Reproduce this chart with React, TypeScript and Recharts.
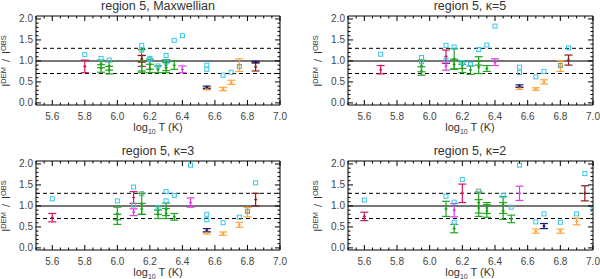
import React from 'react'
import { ComposedChart, Scatter, ErrorBar, XAxis, YAxis, ReferenceLine } from 'recharts'

type Sq = [number, number]
type Eb = [number, number, number]

// axis ticks
const xMajor = [5.6, 5.8, 6.0, 6.2, 6.4, 6.6, 6.8, 7.0]
const yMajor = [0, 0.5, 1.0, 1.5, 2.0]
const xTicks: number[] = []
for (let i = 0; i <= 30; i++) xTicks.push(Math.round((5.5 + i * 0.05) * 100) / 100)
const yTicks: number[] = []
for (let i = 0; i <= 20; i++) yTicks.push(Math.round(i * 10) / 100)

// region 5, Maxwellian
const maxSquares: Sq[] = [[5.8, 1.15], [5.9, 1.06], [5.95, 1.02], [6.15, 1.37], [6.15, 1.26], [6.2, 1.06], [6.2, 1.03], [6.25, 0.88], [6.3, 1.13], [6.3, 0.97], [6.35, 1.49], [6.4, 1.6], [6.55, 0.9], [6.55, 0.8], [6.65, 0.66], [6.7, 0.73]]
const maxOlive: Sq[] = [[6.75, 0.87]]
const maxRed: Eb[] = [[5.8, 0.87, 0.15], [6.15, 1.0, 0.13]]
const maxGreen: Eb[] = [[5.9, 0.93, 0.09], [5.9, 0.82, 0.09], [5.95, 0.88, 0.1], [5.95, 0.78, 0.09], [6.15, 1.0, 0.27], [6.15, 0.88, 0.12], [6.2, 0.92, 0.12], [6.2, 0.82, 0.1], [6.25, 0.8, 0.08], [6.3, 0.9, 0.13], [6.3, 0.84, 0.12], [6.35, 0.9, 0.1]]
const maxMagenta: Eb[] = [[6.4, 0.8, 0.08]]
const maxOrange: Eb[] = [[6.55, 0.34, 0.03], [6.65, 0.33, 0.04], [6.7, 0.49, 0.05], [6.75, 0.9, 0.15]]
const maxNavy: Eb[] = [[6.55, 0.37, 0.03], [6.85, 0.97, 0.02]]
const maxDarkRed: Eb[] = [[6.15, 1.05, 0.08], [6.85, 0.86, 0.1]]

// region 5, kappa=5
const k5Squares: Sq[] = [[5.7, 1.16], [5.95, 1.08], [5.95, 0.98], [6.1, 1.37], [6.1, 1.02], [6.15, 1.33], [6.2, 0.96], [6.25, 0.92], [6.3, 1.27], [6.35, 1.38], [6.4, 1.83], [6.55, 0.85], [6.55, 0.72], [6.65, 0.62], [6.7, 0.75], [6.85, 1.31]]
const k5Olive: Sq[] = [[6.8, 0.89]]
const k5Red: Eb[] = [[5.7, 0.79, 0.1], [6.1, 1.1, 0.16]]
const k5Green: Eb[] = [[5.95, 0.88, 0.14], [5.95, 0.76, 0.1], [6.15, 1.05, 0.24], [6.15, 0.92, 0.12], [6.2, 0.9, 0.08], [6.2, 0.82, 0.1], [6.25, 0.78, 0.1], [6.3, 1.0, 0.1], [6.3, 0.85, 0.15], [6.35, 0.82, 0.07]]
const k5Magenta: Eb[] = [[6.1, 0.88, 0.1], [6.4, 0.97, 0.08]]
const k5Orange: Eb[] = [[6.55, 0.35, 0.03], [6.65, 0.33, 0.03], [6.7, 0.5, 0.05], [6.8, 0.88, 0.13]]
const k5Navy: Eb[] = [[6.55, 0.4, 0.03]]
const k5DarkRed: Eb[] = [[6.85, 1.02, 0.12]]

// region 5, kappa=3
const k3Squares: Sq[] = [[5.6, 1.17], [6.0, 1.12], [6.1, 1.45], [6.1, 1.02], [6.25, 0.96], [6.3, 1.34], [6.3, 1.12], [6.35, 1.25], [6.45, 1.97], [6.55, 0.8], [6.55, 0.67], [6.65, 0.6], [6.75, 0.73], [6.85, 1.55]]
const k3Olive: Sq[] = [[6.15, 1.29], [6.8, 0.87]]
const k3Red: Eb[] = [[5.6, 0.72, 0.1], [6.1, 1.2, 0.14]]
const k3Green: Eb[] = [[6.0, 0.82, 0.15], [6.0, 0.68, 0.12], [6.15, 1.05, 0.25], [6.15, 0.93, 0.13], [6.25, 0.9, 0.1], [6.25, 0.8, 0.1], [6.3, 0.92, 0.15], [6.3, 0.82, 0.12], [6.35, 0.74, 0.08]]
const k3Magenta: Eb[] = [[6.1, 0.85, 0.08], [6.45, 1.08, 0.11]]
const k3Orange: Eb[] = [[6.55, 0.36, 0.03], [6.65, 0.34, 0.04], [6.75, 0.55, 0.06], [6.8, 0.85, 0.11]]
const k3Navy: Eb[] = [[6.55, 0.42, 0.04]]
const k3DarkRed: Eb[] = [[6.85, 1.15, 0.15]]

// region 5, kappa=2
const k2Squares: Sq[] = [[5.6, 1.14], [6.1, 1.23], [6.15, 1.09], [6.15, 0.61], [6.2, 1.63], [6.45, 1.25], [6.5, 0.97], [6.55, 1.97], [6.65, 0.62], [6.7, 0.81], [6.8, 0.61], [6.9, 0.81], [6.95, 1.77], [7.0, 0.92]]
const k2Olive: Sq[] = [[6.3, 1.35]]
const k2Red: Eb[] = [[5.6, 0.75, 0.1], [6.2, 1.3, 0.22]]
const k2Green: Eb[] = [[6.1, 0.93, 0.18], [6.15, 0.46, 0.1], [6.3, 1.08, 0.25], [6.3, 0.95, 0.2], [6.35, 0.95, 0.13], [6.35, 0.88, 0.15], [6.45, 1.02, 0.2], [6.45, 0.88, 0.2], [6.5, 0.69, 0.09]]
const k2Magenta: Eb[] = [[6.15, 0.9, 0.16], [6.55, 1.3, 0.17]]
const k2Orange: Eb[] = [[6.65, 0.4, 0.05], [6.8, 0.4, 0.05], [6.9, 0.63, 0.08]]
const k2Navy: Eb[] = [[6.7, 0.52, 0.06]]
const k2DarkRed: Eb[] = [[6.95, 1.3, 0.18]]

const COLORS = {
  red: '#d8145c',
  green: '#1fa51f',
  magenta: '#dd3ddd',
  orange: '#ffa53a',
  navy: '#1c1c80',
  darkred: '#8e1c1c',
  cyan: '#38c4ea',
  olive: '#6aa58a',
}

const FONT = '"Liberation Sans", Arial, sans-serif'
const Y_DOMAIN = [-0.05, 2.07]

const isMajor = (v: number, list: number[]) => list.some(m => Math.abs(m - v) < 1e-6)

const BottomTick = ({ x, y, payload }: any) => {
  const major = isMajor(payload.value, xMajor)
  return (
    <g>
      <line x1={x} x2={x} y1={y} y2={y - (major ? 5 : 2.5)} stroke="#000" />
      {major && (
        <text x={x} y={y + 15} textAnchor="middle" fontSize={10} fill="#444" fontFamily={FONT}>
          {payload.value.toFixed(1)}
        </text>
      )}
    </g>
  )
}

const TopTick = ({ x, y, payload }: any) => {
  const major = isMajor(payload.value, xMajor)
  return <line x1={x} x2={x} y1={y} y2={y + (major ? 5 : 2.5)} stroke="#000" />
}

const LeftTick = ({ x, y, payload }: any) => {
  const major = isMajor(payload.value, yMajor)
  return (
    <g>
      <line x1={x} x2={x + (major ? 5 : 2.5)} y1={y} y2={y} stroke="#000" />
      {major && (
        <text x={x - 3} y={y + 3.5} textAnchor="end" fontSize={10} fill="#444" fontFamily={FONT}>
          {payload.value.toFixed(1)}
        </text>
      )}
    </g>
  )
}

const RightTick = ({ x, y, payload }: any) => {
  const major = isMajor(payload.value, yMajor)
  return <line x1={x} x2={x - (major ? 5 : 2.5)} y1={y} y2={y} stroke="#000" />
}

const squareShape = (color: string) => (p: any) => (
  <rect x={p.cx - 2} y={p.cy - 2} width={4} height={4} fill="none" stroke={color} strokeWidth={1} />
)

const crossShape = (color: string) => (p: any) => (
  <path d={`M${p.cx - 1.5},${p.cy}h3M${p.cx},${p.cy - 1.5}v3`} stroke={color} strokeWidth={1.2} />
)

// axes take 1px each, margins are reduced by 1 to keep plot boxes in place
const panels = [
  { title: 'region 5, Maxwellian', left: 0, top: 0, h: 139, margin: { top: 15, right: 19, bottom: 33, left: 35 },
    squares: maxSquares, olive: maxOlive, bars: { red: maxRed, green: maxGreen, magenta: maxMagenta, orange: maxOrange, navy: maxNavy, darkred: maxDarkRed } },
  { title: 'region 5, \u03ba=5', left: 300, top: 0, h: 139, margin: { top: 15, right: 6, bottom: 33, left: 47 },
    squares: k5Squares, olive: k5Olive, bars: { red: k5Red, green: k5Green, magenta: k5Magenta, orange: k5Orange, navy: k5Navy, darkred: k5DarkRed } },
  { title: 'region 5, \u03ba=3', left: 0, top: 139, h: 140, margin: { top: 21, right: 19, bottom: 28, left: 35 },
    squares: k3Squares, olive: k3Olive, bars: { red: k3Red, green: k3Green, magenta: k3Magenta, orange: k3Orange, navy: k3Navy, darkred: k3DarkRed } },
  { title: 'region 5, \u03ba=2', left: 300, top: 139, h: 140, margin: { top: 21, right: 6, bottom: 28, left: 47 },
    squares: k2Squares, olive: k2Olive, bars: { red: k2Red, green: k2Green, magenta: k2Magenta, orange: k2Orange, navy: k2Navy, darkred: k2DarkRed } },
]

function Panel({ p }: { p: any }) {
  const sq = (arr: Sq[]) => arr.map(([x, y]) => ({ x, y }))
  const eb = (arr: Eb[]) => arr.map(([x, y, e]) => ({ x, y, e }))
  return (
    <div style={{ position: 'absolute', left: p.left, top: p.top }}>
      <ComposedChart width={300} height={p.h} margin={p.margin}>
        <XAxis xAxisId="b" type="number" dataKey="x" domain={[5.5, 7.0]} allowDataOverflow ticks={xTicks} interval={0}
          height={1} tickSize={0} tickMargin={0} tickLine={false} axisLine={{ stroke: '#000' }} tick={(t: any) => <BottomTick {...t} />} />
        <XAxis xAxisId="t" orientation="top" type="number" dataKey="x" domain={[5.5, 7.0]} allowDataOverflow ticks={xTicks} interval={0}
          height={1} tickSize={0} tickMargin={0} tickLine={false} axisLine={{ stroke: '#000' }} tick={(t: any) => <TopTick {...t} />} />
        <YAxis yAxisId="l" type="number" dataKey="y" domain={Y_DOMAIN} allowDataOverflow ticks={yTicks} interval={0}
          width={1} tickSize={0} tickMargin={0} tickLine={false} axisLine={{ stroke: '#000' }} tick={(t: any) => <LeftTick {...t} />} />
        <YAxis yAxisId="r" orientation="right" type="number" dataKey="y" domain={Y_DOMAIN} allowDataOverflow ticks={yTicks} interval={0}
          width={1} tickSize={0} tickMargin={0} tickLine={false} axisLine={{ stroke: '#000' }} tick={(t: any) => <RightTick {...t} />} />
        <ReferenceLine xAxisId="b" yAxisId="l" y={1.0} stroke="#777" strokeWidth={2} />
        <ReferenceLine xAxisId="b" yAxisId="l" y={1.3} stroke="#000" strokeDasharray="4 3" />
        <ReferenceLine xAxisId="b" yAxisId="l" y={0.7} stroke="#000" strokeDasharray="4 3" />
        {Object.entries(p.bars).map(([key, arr]: [string, any]) => (
          <Scatter key={key} xAxisId="b" yAxisId="l" data={eb(arr)} isAnimationActive={false}
            shape={crossShape((COLORS as any)[key])}>
            <ErrorBar dataKey="e" direction="y" width={4} stroke={(COLORS as any)[key]} strokeWidth={1.2} isAnimationActive={false} />
          </Scatter>
        ))}
        <Scatter xAxisId="b" yAxisId="l" data={sq(p.squares)} isAnimationActive={false} shape={squareShape(COLORS.cyan)} />
        <Scatter xAxisId="b" yAxisId="l" data={sq(p.olive)} isAnimationActive={false} shape={squareShape(COLORS.olive)} />
      </ComposedChart>
    </div>
  )
}

function Labels() {
  const boxes = [
    { title: panels[0].title, cx: 158, tY: 10, xY: 131, yX: 10, yC: 61 },
    { title: panels[1].title, cx: 470, tY: 10, xY: 131, yX: 322, yC: 61 },
    { title: panels[2].title, cx: 158, tY: 155, xY: 276, yX: 10, yC: 206 },
    { title: panels[3].title, cx: 470, tY: 155, xY: 276, yX: 322, yC: 206 },
  ]
  return (
    <svg width={600} height={279} style={{ position: 'absolute', left: 0, top: 0, pointerEvents: 'none' }} fontFamily={FONT}>
      {boxes.map((b, i) => (
        <g key={i} fill="#333">
          <text x={b.cx} y={b.tY} textAnchor="middle" fontSize={12.5}>{b.title}</text>
          <text x={b.cx} y={b.xY} textAnchor="middle" fontSize={11}>
            log<tspan dy={3} fontSize={7}>10</tspan><tspan dy={-3}> T (K)</tspan>
          </text>
          <text transform={`translate(${b.yX},${b.yC}) rotate(-90)`} textAnchor="middle" fontSize={11}>
            I<tspan dy={-4} fontSize={7.5}>DEM</tspan><tspan dy={4} dx={5}>/</tspan><tspan dx={5}>I</tspan><tspan dy={-4} fontSize={7.5}>OBS</tspan>
          </text>
        </g>
      ))}
    </svg>
  )
}

export default function App() {
  return (
    <div style={{ position: 'absolute', left: 0, top: 0, width: 600, height: 279, background: '#fff' }}>
      {panels.map((p, i) => <Panel key={i} p={p} />)}
      <Labels />
    </div>
  )
}
